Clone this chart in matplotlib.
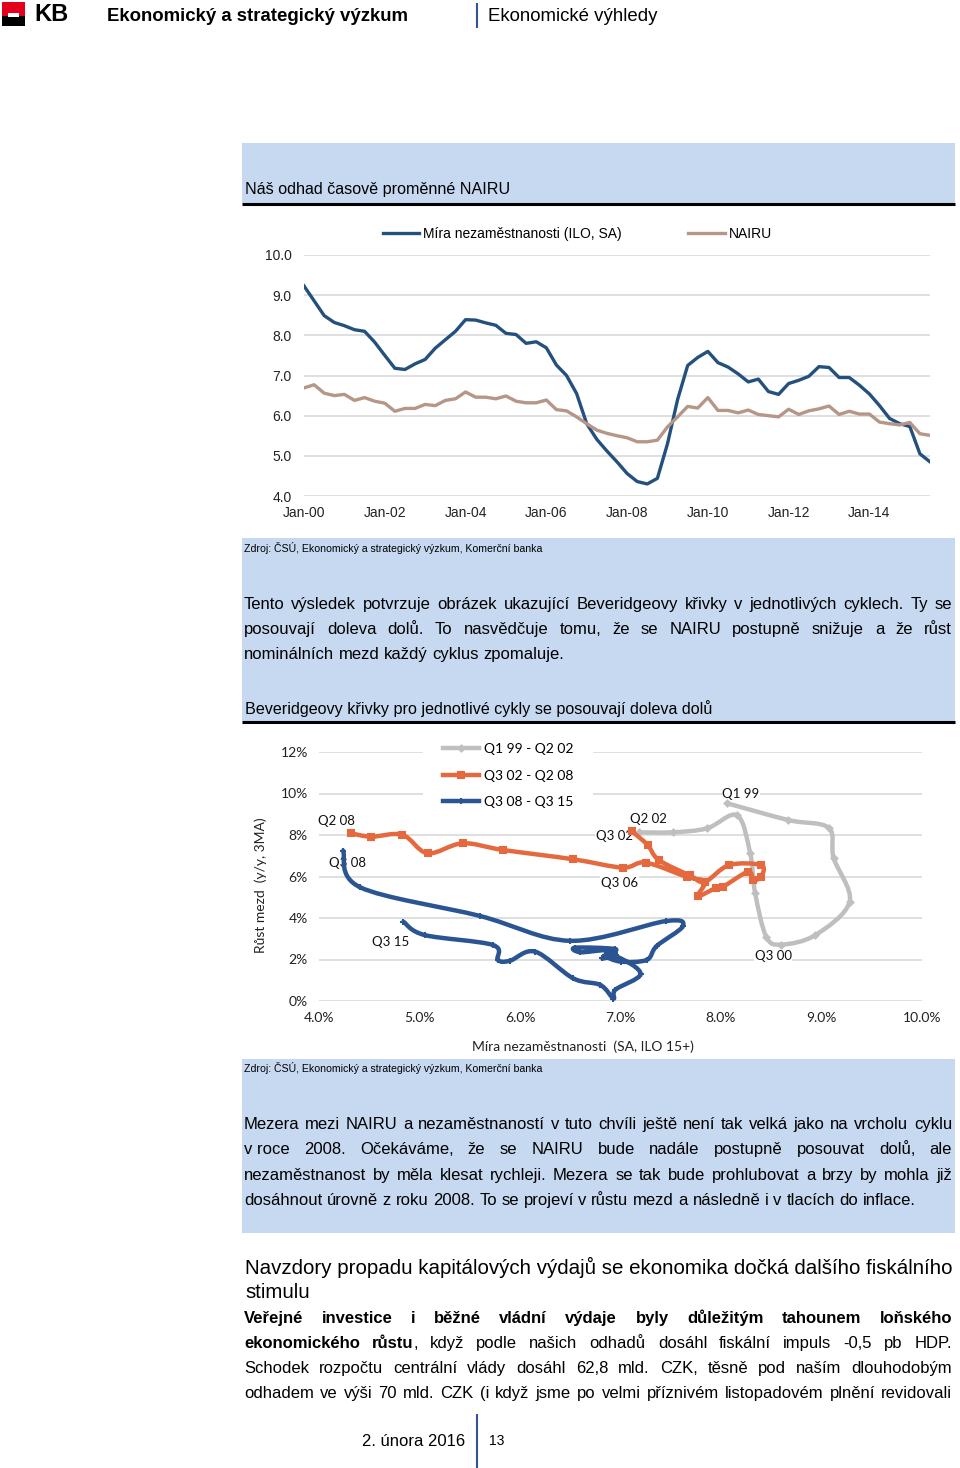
import numpy as np
import pandas as pd
import matplotlib
matplotlib.use('Agg')
import matplotlib.pyplot as plt
from matplotlib.patches import Rectangle, PathPatch
from matplotlib.path import Path
from matplotlib.lines import Line2D

# --------------------------------------------------------------------------------------
# Data

# chart 1 - quarterly, Q1 2000 .. Q3 2015
quarters = pd.period_range('2000Q1', '2015Q3', freq='Q')
unemployment = [9.23, 8.86, 8.49, 8.32, 8.24, 8.14, 8.10, 7.83,
                7.50, 7.18, 7.15, 7.29, 7.40, 7.68, 7.89, 8.10,
                8.39, 8.38, 8.31, 8.25, 8.05, 8.02, 7.80, 7.84,
                7.69, 7.26, 7.00, 6.55, 5.80, 5.41, 5.12, 4.85,
                4.56, 4.36, 4.30, 4.44, 5.30, 6.40, 7.25, 7.45,
                7.60, 7.32, 7.21, 7.04, 6.84, 6.91, 6.60, 6.53,
                6.80, 6.88, 6.98, 7.22, 7.20, 6.95, 6.95, 6.76,
                6.54, 6.25, 5.93, 5.80, 5.73, 5.05, 4.85]
nairu = [6.69, 6.77, 6.56, 6.50, 6.53, 6.38, 6.45, 6.36,
         6.31, 6.11, 6.18, 6.18, 6.28, 6.25, 6.38, 6.42,
         6.59, 6.46, 6.46, 6.42, 6.49, 6.36, 6.32, 6.32,
         6.39, 6.15, 6.12, 5.97, 5.80, 5.64, 5.56, 5.50,
         5.45, 5.35, 5.35, 5.39, 5.72, 5.97, 6.23, 6.19,
         6.45, 6.13, 6.13, 6.07, 6.14, 6.03, 6.00, 5.97,
         6.16, 6.03, 6.12, 6.17, 6.24, 6.03, 6.11, 6.04,
         6.04, 5.84, 5.80, 5.77, 5.83, 5.55, 5.51]
c1_yticks = [4.0, 5.0, 6.0, 7.0, 8.0, 9.0, 10.0]
c1_xticks = [2000, 2002, 2004, 2006, 2008, 2010, 2012, 2014]
c1_xlabels = ['Jan-00', 'Jan-02', 'Jan-04', 'Jan-06', 'Jan-08', 'Jan-10', 'Jan-12', 'Jan-14']

# chart 2 - Beveridge curves (unemployment %, wage growth %)
u_9902 = [8.06, 8.67, 9.07, 9.12, 9.28, 8.94, 8.60, 8.45, 8.34, 8.29, 8.16, 7.86, 7.52, 7.18]
w_9902 = [9.53, 8.72, 8.35, 6.90, 4.79, 3.18, 2.72, 3.10, 5.19, 7.12, 8.95, 8.32, 8.13, 8.13]

u_0208 = [7.11, 7.27, 7.38, 7.69, 7.84, 8.08, 8.40, 8.40, 8.32, 8.27, 8.02, 7.95,
          7.77, 7.84, 7.66, 7.25, 7.02, 6.53, 5.83, 5.43, 5.08, 4.83, 4.52, 4.32]
w_0208 = [8.19, 7.52, 6.80, 6.05, 5.75, 6.55, 6.55, 6.00, 5.83, 6.23, 5.51, 5.45,
          5.06, 5.75, 5.98, 6.67, 6.43, 6.83, 7.28, 7.60, 7.12, 8.01, 7.92, 8.08]

u_0815 = [4.24, 4.41, 5.60, 6.50, 7.45, 7.62, 7.36, 7.26, 7.00, 6.85, 6.95, 6.55, 6.60, 6.85,
          6.95, 6.82, 6.98, 7.20, 6.95, 6.93, 6.80, 6.53, 6.15, 5.90, 5.78, 5.73, 5.05, 4.84]
w_0815 = [7.24, 5.48, 4.10, 2.90, 3.85, 3.60, 2.65, 1.98, 1.90, 2.20, 2.50, 2.57, 2.35, 2.45,
          2.30, 2.05, 2.10, 1.30, 0.55, 0.12, 0.77, 1.09, 2.38, 1.94, 1.98, 2.70, 3.18, 3.82]

c2_labels = ['Q2 08', 'Q3 08', 'Q3 15', 'Q3 02', 'Q2 02', 'Q3 06', 'Q1 99', 'Q3 00']
c2_label_u = [4.17, 4.28, 4.71, 6.94, 7.28, 6.99, 8.20, 8.52]
c2_label_w = [8.67, 6.65, 2.84, 7.95, 8.77, 5.69, 9.98, 2.17]
c2_xticks = [4, 5, 6, 7, 8, 9, 10]
c2_yticks = [0, 2, 4, 6, 8, 10, 12]

# page text
para_b = ['Tento výsledek potvrzuje obrázek ukazující Beveridgeovy křivky v jednotlivých cyklech. Ty se',
          'posouvají doleva dolů. To nasvědčuje tomu, že se NAIRU postupně snižuje a že růst',
          'nominálních mezd každý cyklus zpomaluje.']
para_c = ['Mezera mezi NAIRU a nezaměstnaností v tuto chvíli ještě není tak velká jako na vrcholu cyklu',
          'v_roce 2008. Očekáváme, že se NAIRU bude nadále postupně posouvat dolů, ale',
          'nezaměstnanost by měla klesat rychleji. Mezera se tak bude prohlubovat a brzy by mohla již',
          'dosáhnout úrovně z roku 2008. To se projeví v růstu mezd a následně i v tlacích do inflace.']
para_d = ['Schodek rozpočtu centrální vlády dosáhl 62,8 mld. CZK, těsně pod naším dlouhodobým',
          'odhadem ve výši 70 mld. CZK (i když jsme po velmi příznivém listopadovém plnění revidovali']
source = 'Zdroj: ČSÚ, Ekonomický a strategický výzkum, Komerční banka'

# --------------------------------------------------------------------------------------
# Style

FONT = 'Liberation Sans'
CFONT = 'Lato'
boxcol = '#c6d9f0'
gridcol = '#d9d9d9'
kbblue = '#2f5597'
col_u = '#24507e'
col_n = '#b59687'
col_gray = '#bfbfbf'
col_orange = '#e5693f'
col_blue = '#2a5592'

W, H = 960, 1468
fig = plt.figure(figsize=(W / 100, H / 100), dpi=100)
renderer = fig.canvas.get_renderer()


def fx(x):
    return x / W


def fy(y):
    return 1 - y / H


def rect(x0, y0, x1, y1, color):
    fig.add_artist(Rectangle((fx(x0), fy(y1)), (x1 - x0) / W, (y1 - y0) / H,
                             transform=fig.transFigure, facecolor=color, lw=0, zorder=0))


def line(x0, y0, x1, y1, lw, color):
    fig.add_artist(Line2D([fx(x0), fx(x1)], [fy(y0), fy(y1)], transform=fig.transFigure,
                          lw=lw, color=color, solid_capstyle='butt'))


def put(s, x, y, size, bold=False, family=FONT, **kw):
    # y is the visual middle of the line; place on the baseline below it
    base = y + 0.3 * size * 100 / 72
    return fig.text(fx(x), fy(base), s, fontsize=size, family=family, va='baseline', ha='left',
                    fontweight='bold' if bold else 'normal', **kw)


def text_line(tokens, x0, x1, y, size, justify=True):
    # tokens: list of words, each word a list of (text, bold) segments
    placed = []
    widths = []
    for tok in tokens:
        segs = []
        w = 0
        for s, b in tok:
            t = put(s.replace('_', ' '), 0, y, size, b)
            segs.append((t, w))
            w += t.get_window_extent(renderer).width
        placed.append(segs)
        widths.append(w)
    a = put('a a', 0, y, size)
    b = put('aa', 0, y, size)
    space = a.get_window_extent(renderer).width - b.get_window_extent(renderer).width
    a.remove()
    b.remove()
    if justify and len(tokens) > 1:
        gap = (x1 - x0 - sum(widths)) / (len(tokens) - 1)
    else:
        gap = space
    x = x0
    for segs, w in zip(placed, widths):
        for t, off in segs:
            t.set_x(fx(x + off))
        x += w + gap


def words(s, bold=False):
    return [[(w, bold)] for w in s.split(' ')]


# --------------------------------------------------------------------------------------
# Page frame

# logo + header
rect(2, 2, 25, 16, '#e2001a')
rect(2, 16, 25, 26, '#000000')
rect(8, 13.5, 19, 16.5, '#ffffff')
put('KB', 34, 14, 17, bold=True)
put('Ekonomický a strategický výzkum', 107, 15, 13.4, bold=True)
line(477, 3, 477, 28, 1.5, kbblue)
put('Ekonomické výhledy', 488, 15, 13.4)

# blue boxes
rect(242, 143, 955, 203, boxcol)
line(242, 203.5, 955, 203.5, 2.2, '#000000')
rect(242, 538, 955, 721, boxcol)
line(242, 722, 955, 722, 2.2, '#000000')
rect(242, 1059, 955, 1233, boxcol)

put('Náš odhad časově proměnné NAIRU', 245, 189, 11.6)
put(source, 244, 549, 7.6)
for i, s in enumerate(para_b):
    text_line(words(s), 244, 952, 604 + 25 * i, 12, justify=i < len(para_b) - 1)
put('Beveridgeovy křivky pro jednotlivé cykly se posouvají doleva dolů', 245, 709, 11.6)

put(source, 244, 1069, 7.6)
for i, s in enumerate(para_c):
    text_line(words(s), 244, 952, 1124 + 25.3 * i, 12, justify=i < len(para_c) - 1)

# section heading and bold paragraph
put('Navzdory propadu kapitálových výdajů se ekonomika dočká dalšího fiskálního', 245, 1268, 14.8)
put('stimulu', 245, 1292, 14.8)
text_line(words('Veřejné investice i běžné vládní výdaje byly důležitým tahounem loňského', True),
          244, 952, 1318, 12)
text_line([[('ekonomického', True)], [('růstu', True), (',', False)]] +
          words('když podle našich odhadů dosáhl fiskální impuls -0,5 pb HDP.'),
          244, 952, 1343, 12)
for i, s in enumerate(para_d):
    text_line(words(s), 244, 952, 1368 + 25 * i, 12)

# footer
put('2. února 2016', 362, 1441, 12)
line(477, 1414, 477, 1468, 1.5, kbblue)
put('13', 489, 1441, 10)

# --------------------------------------------------------------------------------------
# Chart 1 - unemployment vs NAIRU


def axes_rect(x0, y0, x1, y1):
    return [fx(x0), fy(y1), (x1 - x0) / W, (y1 - y0) / H]


x = quarters.year + (quarters.quarter - 1) / 4

ax1 = fig.add_axes(axes_rect(304, 255, 930, 496))
ax1.plot(x, unemployment, color=col_u, lw=2.4, label='Míra nezaměstnanosti (ILO, SA)',
         solid_joinstyle='round', zorder=3)
ax1.plot(x, nairu, color=col_n, lw=2.4, label='NAIRU', solid_joinstyle='round', zorder=3)
ax1.set_xlim(2000, 2015.5)
ax1.set_ylim(4, 10)
ax1.set_yticks(c1_yticks)
ax1.set_yticklabels(['%.1f' % v for v in c1_yticks])
ax1.set_xticks(c1_xticks)
ax1.set_xticklabels(c1_xlabels)
ax1.grid(True, axis='y', color=gridcol, lw=1.2)
ax1.set_axisbelow(True)
for s in ax1.spines.values():
    s.set_visible(False)
ax1.tick_params(length=0, labelsize=10, colors='#222222')
ax1.tick_params(axis='y', pad=9)
ax1.tick_params(axis='x', pad=7)
for lab in ax1.get_xticklabels() + ax1.get_yticklabels():
    lab.set_family(FONT)
ax1.legend(loc='center left', bbox_to_anchor=(0.126, 1.087), ncol=2, frameon=False,
           borderpad=0, borderaxespad=0, handlelength=2.6, handletextpad=0.3,
           columnspacing=4.8, prop={'family': FONT, 'size': 10})

# --------------------------------------------------------------------------------------
# Chart 2 - Beveridge curves

ax2 = fig.add_axes(axes_rect(319, 752, 922, 1001))
ax2.set_xlim(4, 10)
ax2.set_ylim(0, 12)
sx = (922 - 319) / 6.0
sy = (1001 - 752) / 12.0


def smooth_path(xs, ys):
    # smoothed line through the points, like the spreadsheet's smoothed series
    P = np.column_stack([np.asarray(xs) * sx, np.asarray(ys) * sy])
    n = len(P)
    verts = [P[0]]
    codes = [Path.MOVETO]
    for i in range(n - 1):
        p0 = P[i - 1] if i > 0 else P[i]
        p1 = P[i]
        p2 = P[i + 1]
        p3 = P[i + 2] if i + 2 < n else P[i + 1]
        verts += [p1 + (p2 - p0) / 6, p2 - (p3 - p1) / 6, p2]
        codes += [Path.CURVE4] * 3
    return Path(np.array(verts) / [sx, sy], codes)


series = [(u_9902, w_9902, col_gray, 'D', 3, 'Q1 99 - Q2 02'),
          (u_0208, w_0208, col_orange, 's', 5, 'Q3 02 - Q2 08'),
          (u_0815, w_0815, col_blue, '+', 4, 'Q3 08 - Q3 15')]
handles = []
for i, (u, w, c, m, ms, lab) in enumerate(series):
    ax2.add_patch(PathPatch(smooth_path(u, w), fill=False, edgecolor=c, lw=3.2,
                            capstyle='round', joinstyle='round', zorder=3 + i))
    ax2.plot(u, w, ls='none', marker=m, ms=ms, color=c, mec=c, mew=1.5, zorder=3 + i)
    handles.append(Line2D([], [], color=c, lw=3.2, marker=m, ms=ms, mec=c, mew=1.5))

for lab, u, w in zip(c2_labels, c2_label_u, c2_label_w):
    ax2.text(u, w, lab, family=CFONT, fontsize=9.5, ha='center', va='center', color='#111111',
             bbox=dict(facecolor='white', edgecolor='none', pad=0.5), zorder=2)

ax2.set_xticks(c2_xticks)
ax2.set_xticklabels(['%.1f%%' % v for v in c2_xticks])
ax2.set_yticks(c2_yticks)
ax2.set_yticklabels(['%d%%' % v for v in c2_yticks])
ax2.grid(True, axis='y', color=gridcol, lw=1.2)
ax2.set_axisbelow(True)
for s in ax2.spines.values():
    s.set_visible(False)
ax2.tick_params(length=0, labelsize=10, colors='#222222')
ax2.tick_params(axis='y', pad=8)
ax2.tick_params(axis='x', pad=8)
for lab in ax2.get_xticklabels() + ax2.get_yticklabels():
    lab.set_family(CFONT)
ax2.set_xlabel('Míra nezaměstnanosti  (SA, ILO 15+)', family=CFONT, fontsize=10, color='#222222')
ax2.xaxis.set_label_coords(0.438, -0.16)
ax2.set_ylabel('Růst mezd  (y/y, 3MA)', family=CFONT, fontsize=10, color='#222222')
ax2.yaxis.set_label_coords(-0.086, 0.466)
leg = ax2.legend(handles, [s[5] for s in series], loc='upper left', bbox_to_anchor=(0.173, 1.114),
                 frameon=True, facecolor='white', edgecolor='none', framealpha=1, fancybox=False,
                 borderpad=1.4, borderaxespad=0, handlelength=2.6, handletextpad=0.35,
                 labelspacing=1.05, prop={'family': CFONT, 'size': 10})
leg.set_zorder(6)

fig.savefig('out.png', dpi=100)
